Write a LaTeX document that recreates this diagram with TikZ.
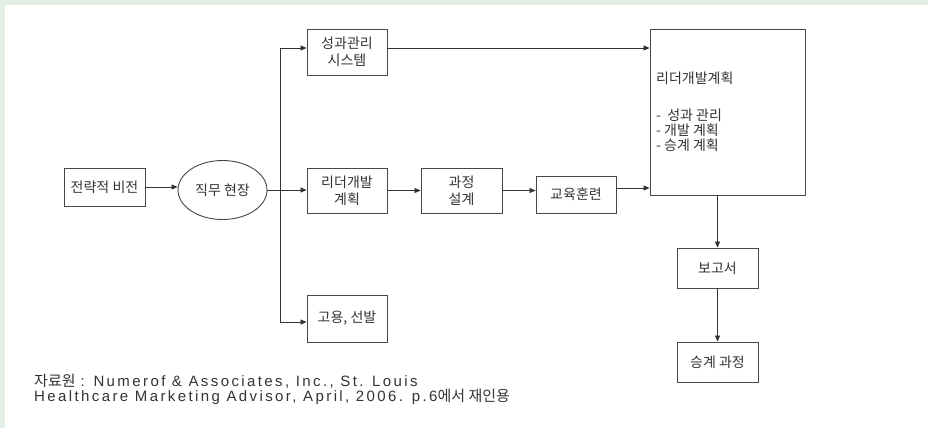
\documentclass[tikz,border=0pt]{standalone}
\usepackage{fontspec}
\setmainfont{Noto Sans CJK KR}
\newfontfamily\latf{Liberation Sans}[LetterSpace=16]
\newfontfamily\korf{Noto Sans CJK KR}
\usetikzlibrary{arrows.meta,shapes.geometric}
\definecolor{framegreen}{HTML}{E3EFE5}
\definecolor{ink}{HTML}{333333}
\begin{document}
\begin{tikzpicture}[x=1pt,y=-1pt,
  box/.style={draw=ink!90, line width=0.9pt, text=ink, font=\fontsize{14}{17}\selectfont, align=center, inner sep=0pt},
  oval/.style={ellipse, draw=ink!90, line width=0.9pt, text=ink, font=\fontsize{14}{17}\selectfont, inner sep=0pt},
  arr/.style={draw=ink, line width=0.8pt, -{Triangle[length=6pt,width=5pt]}},
  ln/.style={draw=ink, line width=0.8pt},
  plain/.style={text=ink, inner sep=0pt}]
\fill[framegreen] (0,0) rectangle (928,428);
\fill[white] (5,5) rectangle (928,428);
\useasboundingbox (0,0) rectangle (928,428);

\node[box, minimum width=81pt, minimum height=38pt] (strat) at (104.5,187) {전략적 비전};
\node[oval, minimum width=89pt, minimum height=59pt] (ell) at (222.5,190) {직무 현장};
\node[box, minimum width=80pt, minimum height=46pt] (perf) at (347,52) {성과관리\\시스템};
\node[box, minimum width=80pt, minimum height=45pt] (lead) at (347,190.5) {리더개발\\계획};
\node[box, minimum width=81pt, minimum height=45pt] (proc) at (461.5,190.5) {과정\\설계};
\node[box, minimum width=80pt, minimum height=37pt] (edu) at (576,194.5) {교육훈련};
\node[box, minimum width=80pt, minimum height=47pt] (hire) at (347,318.5) {고용, 선발};
\node[box, minimum width=155pt, minimum height=166pt] (big) at (727.5,112) {};
\node[box, minimum width=81pt, minimum height=40pt] (report) at (717.5,268) {보고서};
\node[box, minimum width=81pt, minimum height=40pt] (succ) at (717.5,362) {승계 과정};

\node[plain, anchor=west, font=\fontsize{14}{15}\selectfont] (bigt) at (656,78) {리더개발계획};
\node[plain, anchor=north west, align=left, font=\fontsize{14}{15}\selectfont] (bigl) at (656,109) {-\ \ 성과 관리\\- 개발 계획\\- 승계 계획};

\coordinate (jt) at (280,48);
\coordinate (jb) at (280,322);
\coordinate (ey) at (0,188);
\coordinate (dx) at (717.5,0);

\draw[arr] (strat.east) -- (strat.east -| ell.west);
\draw[arr] (ell.east) -- (ell.east -| lead.west);
\draw[ln] (jt) -- (jb);
\draw[arr] (jt) -- (jt -| perf.west);
\draw[arr] (jb) -- (jb -| hire.west);
\draw[arr] (jt -| perf.east) -- (jt -| big.west);
\draw[arr] (lead.east) -- (lead.east -| proc.west);
\draw[arr] (proc.east) -- (proc.east -| edu.west);
\draw[arr] (edu.east |- ey) -- (ey -| big.west);
\draw[arr] (dx |- big.south) -- (report.north);
\draw[arr] (report.south) -- (succ.north);

\node[plain, anchor=west, align=left, font=\fontsize{15}{15}\selectfont] (src) at (34,389.5)
  {{\korf 자료원}\hspace{5pt}{\latf : Numerof \& Associates, Inc., St. Louis}\\
   {\latf Healthcare Marketing Advisor, April, 2006. p.6}{\korf 에서 재인용}};
\end{tikzpicture}
\end{document}
